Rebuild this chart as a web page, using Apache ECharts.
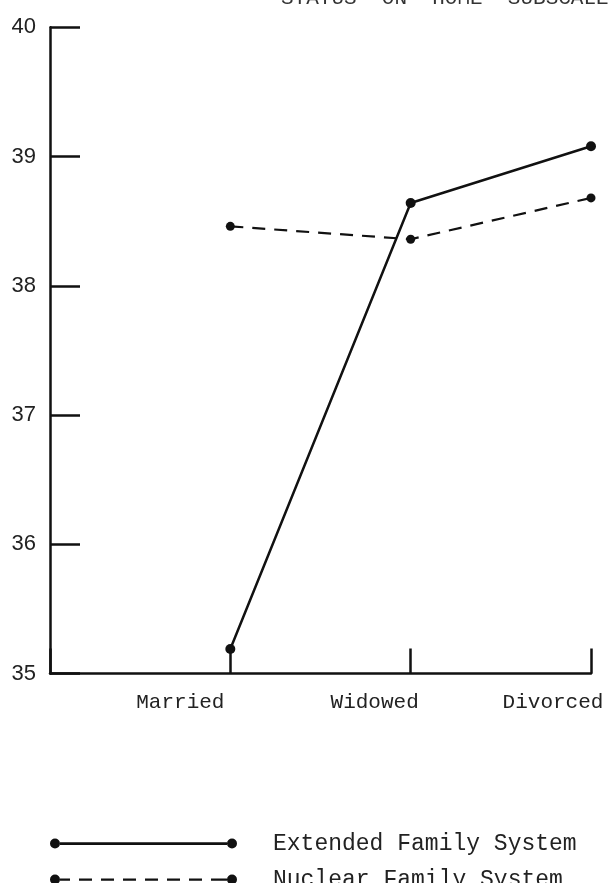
<!DOCTYPE html>
<html>
<head>
<meta charset="utf-8">
<script src="https://cdn.jsdelivr.net/npm/echarts@6/dist/echarts.min.js"></script>
<style>html,body{margin:0;padding:0;background:#fff;}#c{width:609px;height:883px;}</style>
</head>
<body>
<div id="c"></div>
<script>
const categories = ['Married', 'Widowed', 'Divorced'];
const extendedValues = [35.19, 38.64, 39.08];
const nuclearValues = [38.46, 38.36, 38.68];
const yTicks = [35, 36, 37, 38, 39, 40];
const seriesNames = ['Extended Family System', 'Nuclear Family System'];
const titleText = 'STATUS  ON  HOME  SUBSCALE';

const labelShift = { 'Married': 100, 'Widowed': 72, 'Divorced': 76 };
const mono = 'Liberation Mono';

const xData = [''].concat(categories.map(c => ({ value: c, textStyle: { padding: [0, labelShift[c], 0, 0] } })));

const extIcon = 'path://M0,5a5,5 0 1,0 10,0a5,5 0 1,0 -10,0Z M10,3.8H177V6.4H10Z M177,5a5,5 0 1,0 10,0a5,5 0 1,0 -10,0Z';
const nucIcon = 'path://M0,5a5,5 0 1,0 10,0a5,5 0 1,0 -10,0Z M10,4H20V6.2H10Z M29,4H42V6.2H29Z M51,4H64V6.2H51Z M73,4H86V6.2H73Z M95,4H108V6.2H95Z M117,4H130V6.2H117Z M139,4H152V6.2H139Z M161,4H177V6.2H161Z M177,5a5,5 0 1,0 10,0a5,5 0 1,0 -10,0Z';

const chart = echarts.init(document.getElementById('c'), null, { renderer: 'canvas' });
const legendBase = {
  left: 50, orient: 'horizontal', itemWidth: 187, itemHeight: 10, padding: 0,
  selectedMode: false, symbolKeepAspect: false,
  itemStyle: { borderWidth: 0, color: '#111' },
  textStyle: { fontFamily: mono, fontSize: 23, color: '#222', padding: [0, 0, 3, 31] }
};
chart.setOption({
  animation: false,
  backgroundColor: '#fff',
  title: {
    text: titleText, left: 281, top: -12, padding: 0,
    textStyle: { fontFamily: mono, fontSize: 21, fontWeight: 'normal', color: '#333' }
  },
  legend: [
    Object.assign({}, legendBase, { top: 832, data: [{ name: seriesNames[0], icon: extIcon }] }),
    Object.assign({}, legendBase, { top: 868, data: [{ name: seriesNames[1], icon: nucIcon }] })
  ],
  grid: { left: 50, right: 18, top: 27.3, bottom: 209.5, containLabel: false },
  xAxis: {
    type: 'category', data: xData, boundaryGap: false,
    axisLine: { lineStyle: { color: '#111', width: 2.5 } },
    axisTick: { inside: true, length: 25, interval: 0, lineStyle: { color: '#111', width: 2.5 } },
    axisLabel: { interval: 0, margin: 18, fontFamily: mono, fontSize: 21, color: '#222' },
    splitLine: { show: false }
  },
  yAxis: {
    type: 'value', min: yTicks[0], max: yTicks[yTicks.length - 1], interval: 1,
    axisLine: { show: true, lineStyle: { color: '#111', width: 2.5 } },
    axisTick: { show: true, inside: true, length: 30, lineStyle: { color: '#111', width: 2.5 } },
    axisLabel: { margin: 14, fontFamily: 'Liberation Sans', fontSize: 22, color: '#222' },
    splitLine: { show: false }
  },
  series: [
    {
      name: seriesNames[0], type: 'line', data: ['-'].concat(extendedValues),
      symbol: 'circle', symbolSize: 10, showAllSymbol: true,
      lineStyle: { color: '#111', width: 2.5, type: 'solid' },
      itemStyle: { color: '#111', borderWidth: 0 }
    },
    {
      name: seriesNames[1], type: 'line', data: ['-'].concat(nuclearValues),
      symbol: 'circle', symbolSize: 9, showAllSymbol: true,
      lineStyle: { color: '#111', width: 2.2, type: [13, 9] },
      itemStyle: { color: '#111', borderWidth: 0 }
    }
  ]
});
</script>
</body>
</html>
